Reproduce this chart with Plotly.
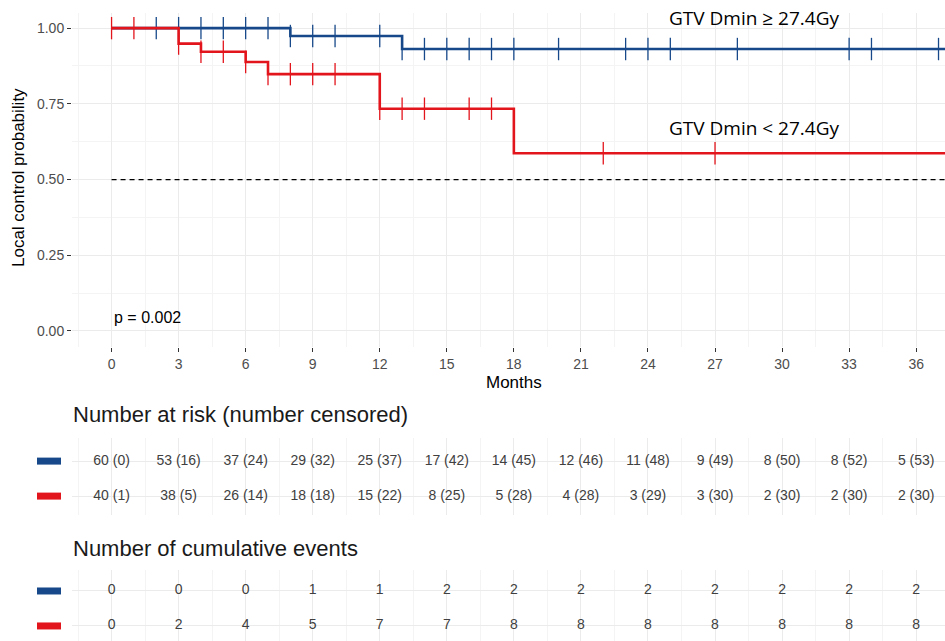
import plotly.graph_objects as go

# Kaplan-Meier steps (time in months, survival probability)
blue_times = [0, 8, 13]
blue_surv = [1.0, 0.974, 0.931]
red_times = [0, 3, 4, 6, 7, 12, 18]
red_surv = [1.0, 0.949, 0.922, 0.888, 0.848, 0.734, 0.587]
follow_up_end = 37.4

# Censoring times
blue_censor = [2, 3, 4, 5, 6, 7, 8, 9, 10, 12, 13, 14, 15, 16, 17, 18, 20, 23, 24, 25, 28, 33, 34, 37]
red_censor = [0, 1, 3, 4, 5, 6, 7, 8, 9, 10, 12, 13, 14, 16, 17, 22, 27]

group_labels = ["GTV Dmin \u2265 27.4Gy", "GTV Dmin < 27.4Gy"]
p_label = "p = 0.002"

# Risk table
table_times = [0, 3, 6, 9, 12, 15, 18, 21, 24, 27, 30, 33, 36]
blue_at_risk = ["60 (0)", "53 (16)", "37 (24)", "29 (32)", "25 (37)", "17 (42)", "14 (45)",
                "12 (46)", "11 (48)", "9 (49)", "8 (50)", "8 (52)", "5 (53)"]
red_at_risk = ["40 (1)", "38 (5)", "26 (14)", "18 (18)", "15 (22)", "8 (25)", "5 (28)",
               "4 (28)", "3 (29)", "3 (30)", "2 (30)", "2 (30)", "2 (30)"]
blue_events = [0, 0, 0, 1, 1, 2, 2, 2, 2, 2, 2, 2, 2]
red_events = [0, 2, 4, 5, 7, 7, 8, 8, 8, 8, 8, 8, 8]

BLUE = "#17498A"
RED = "#E3151C"
FONT = "Liberation Sans, Arial, sans-serif"
LABEL_FONT = "Open Sans, Noto Sans, sans-serif"
GRID = "#EBEBEB"
MINOR = "#F4F4F4"


def surv_at(times, surv, t):
    val = surv[0]
    for ti, si in zip(times, surv):
        if ti <= t:
            val = si
    return val


fig = go.Figure()

# reference line at 0.5
fig.add_trace(go.Scatter(x=[0, follow_up_end], y=[0.5, 0.5], mode="lines",
                         line=dict(color="black", width=1.2, dash="5px,4px"),
                         hoverinfo="skip", showlegend=False))

for times, surv, cens, col in [(blue_times, blue_surv, blue_censor, BLUE),
                                (red_times, red_surv, red_censor, RED)]:
    fig.add_trace(go.Scatter(x=times + [follow_up_end], y=surv + [surv[-1]],
                             mode="lines", line=dict(color=col, width=2.6, shape="hv"),
                             showlegend=False))
    fig.add_trace(go.Scatter(x=cens, y=[surv_at(times, surv, t) for t in cens],
                             mode="markers",
                             marker=dict(symbol="line-ns", size=16,
                                         line=dict(color=col, width=1.3)),
                             showlegend=False))

# risk tables
for tbl_y, rows in [("y2", (blue_at_risk, red_at_risk)),
                    ("y3", ([str(v) for v in blue_events], [str(v) for v in red_events]))]:
    xa = "x2" if tbl_y == "y2" else "x3"
    for row_pos, texts in [(2, rows[0]), (1, rows[1])]:
        fig.add_trace(go.Scatter(x=table_times, y=[row_pos] * len(table_times),
                                 mode="text", text=texts,
                                 textfont=dict(family=FONT, size=14, color="#404040"),
                                 xaxis=xa, yaxis=tbl_y, showlegend=False, hoverinfo="skip"))

x_range = [-1.77, 37.29]
x_dom = [72 / 945, 1.0]
H = 641.0


def ydom(top_px, bot_px):
    return [1 - bot_px / H, 1 - top_px / H]


common_x = dict(range=x_range, domain=x_dom, showgrid=True, gridcolor=GRID, gridwidth=1,
                zeroline=False, showline=False, tickmode="array", tickvals=table_times,
                minor=dict(showgrid=True, gridcolor=MINOR, gridwidth=1, dtick=1.5, tick0=0))

fig.update_layout(
    width=945, height=641, margin=dict(l=0, r=0, t=0, b=0),
    paper_bgcolor="white", plot_bgcolor="white", showlegend=False,
    font=dict(family=FONT),
    xaxis=dict(**common_x, anchor="y", ticks="outside", ticklen=4, tickwidth=1,
               tickcolor="#333333", ticktext=[str(t) for t in table_times],
               tickfont=dict(size=14, color="#4D4D4D")),
    yaxis=dict(domain=ydom(13, 347), range=[-0.053, 1.05], tickmode="array",
               tickvals=[0, 0.25, 0.5, 0.75, 1.0],
               ticktext=["0.00", "0.25", "0.50", "0.75", "1.00"],
               ticks="outside", ticklen=4, tickwidth=1, tickcolor="#333333",
               tickfont=dict(size=14, color="#4D4D4D"),
               showgrid=True, gridcolor=GRID, zeroline=False, showline=False,
               minor=dict(showgrid=True, gridcolor=MINOR, dtick=0.125, tick0=0)),
    xaxis2=dict(**common_x, anchor="y2", showticklabels=False, ticks=""),
    yaxis2=dict(domain=ydom(438, 515), range=[0.46, 2.66], showticklabels=False,
                tickmode="array", tickvals=[1, 2], showgrid=True, gridcolor=GRID,
                zeroline=False, showline=False, anchor="x2"),
    xaxis3=dict(**common_x, anchor="y3", showticklabels=False, ticks=""),
    yaxis3=dict(domain=ydom(570, 641), range=[0.57, 2.6], showticklabels=False,
                tickmode="array", tickvals=[1, 2], showgrid=True, gridcolor=GRID,
                zeroline=False, showline=False, anchor="x3"),
)

ann = []
ann.append(dict(text="Local control probability", textangle=-90, x=18 / 945, y=1 - 178 / H,
                xref="paper", yref="paper", xanchor="center", yanchor="middle",
                showarrow=False, font=dict(family=FONT, size=17, color="black")))
ann.append(dict(text="Months", x=18, y=1 - 382 / H, xref="x", yref="paper",
                xanchor="center", yanchor="middle", showarrow=False,
                font=dict(family=FONT, size=17, color="black")))
ann.append(dict(text=group_labels[0], x=754 / 945, y=1 - 18 / H, xref="paper", yref="paper",
                xanchor="center", yanchor="middle",
                showarrow=False, font=dict(family=LABEL_FONT, size=19, color="black")))
ann.append(dict(text=group_labels[1], x=754 / 945, y=1 - 128 / H, xref="paper", yref="paper",
                xanchor="center", yanchor="middle",
                showarrow=False, font=dict(family=LABEL_FONT, size=19, color="black")))
ann.append(dict(text=p_label, x=0, y=0.045, xref="x", yref="y", xanchor="left",
                yanchor="middle",
                showarrow=False, font=dict(family=FONT, size=16, color="black")))
ann.append(dict(text="Number at risk (number censored)", x=71 / 945, y=1 - 415 / H,
                xref="paper", yref="paper", xanchor="left", yanchor="middle", showarrow=False,
                font=dict(family=FONT, size=22, color="#1A1A1A")))
ann.append(dict(text="Number of cumulative events", x=71 / 945, y=1 - 548 / H,
                xref="paper", yref="paper", xanchor="left", yanchor="middle", showarrow=False,
                font=dict(family=FONT, size=22, color="#1A1A1A")))
fig.update_layout(annotations=ann)

# colour keys beside table rows
shapes = []
for yref in ["y2", "y3"]:
    for row_pos, col in [(2, BLUE), (1, RED)]:
        shapes.append(dict(type="rect", xref="paper", yref=yref,
                           x0=37 / 945, x1=61 / 945, y0=row_pos - 0.1, y1=row_pos + 0.1,
                           fillcolor=col, line=dict(width=0)))
fig.update_layout(shapes=shapes)

fig.write_html("out.html")
